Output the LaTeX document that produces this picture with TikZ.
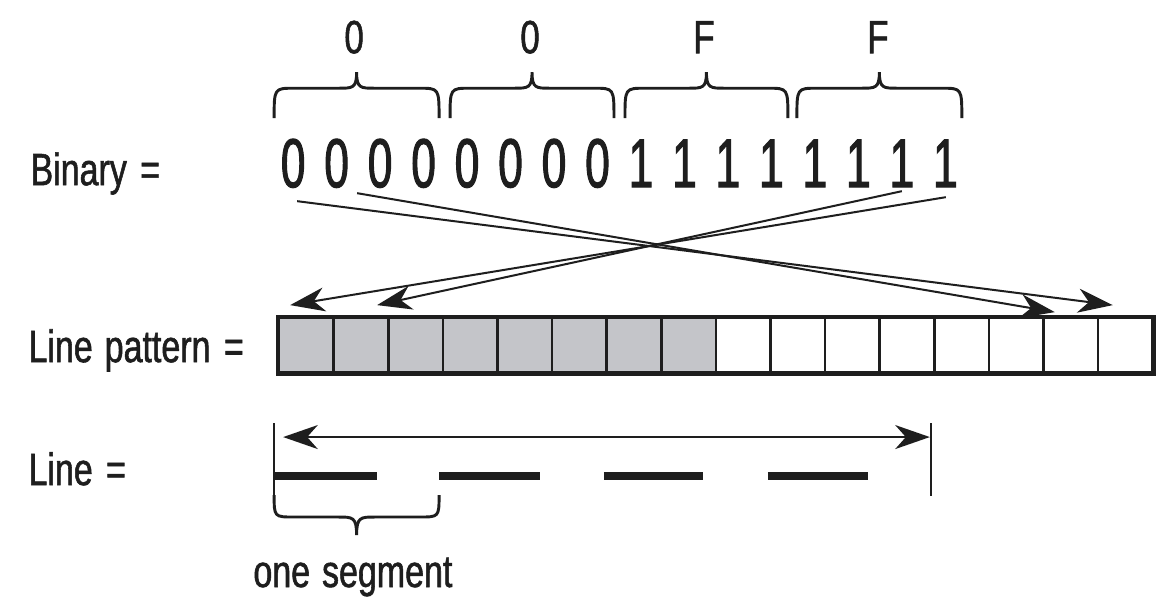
\documentclass[tikz,border=0pt]{standalone}
\usepackage{fontspec}
\setmainfont{Liberation Sans}[FakeStretch=0.75,FakeBold=1.2]
\newfontfamily\digfont{Liberation Sans}[FakeStretch=0.64,FakeBold=1.4]
\newfontfamily\hexfont{Liberation Sans}[FakeStretch=0.75,FakeBold=1.2]
\usetikzlibrary{arrows.meta}
\definecolor{cellgray}{RGB}{196,197,201}
\definecolor{ink}{RGB}{30,30,30}
\newcommand{\drawbrace}[5]{%
  \pgfmathsetmacro\bmid{(#1+#2)/2}%
  \draw[brc] (#1,#3) .. controls (#1,#4) .. (#1+20,#4) -- (\bmid-18,#4)
    .. controls (\bmid-4,#4) and (\bmid,#4) .. (\bmid,#5)
    .. controls (\bmid,#4) and (\bmid+4,#4) .. (\bmid+18,#4) -- (#2-20,#4)
    .. controls (#2,#4) .. (#2,#3);}
\begin{document}
\begin{tikzpicture}[x=0.75pt,y=-0.75pt,
  every path/.style={draw=ink},
  lbl/.style={anchor=base west,inner sep=0pt,text=ink,font=\fontsize{34}{36}\selectfont},
  dig/.style={anchor=base,inner sep=0pt,text=ink,font=\digfont\fontsize{52}{54}\selectfont},
  hex/.style={anchor=base,inner sep=0pt,text=ink,font=\hexfont\fontsize{35}{37}\selectfont},
  cell/.style={draw=ink,line width=2pt,minimum width=40.97pt,minimum height=40.5pt,inner sep=0pt},
  graycell/.style={cell,fill=cellgray},
  tipst/.style={},
  conn/.style={line width=1.5pt,-{Stealth[length=26pt,width=18pt,inset=8pt]}},
  dbl/.style={line width=1.5pt,{Stealth[length=26pt,width=18pt,inset=8pt]}-{Stealth[length=26pt,width=18pt,inset=8pt]}},
  brc/.style={line width=2.2pt},
  tickline/.style={line width=1.4pt},
  segbar/.style={line width=6.6pt,line cap=butt}]
\useasboundingbox (0,0) rectangle (1163,598);
\fill[white] (0,0) rectangle (1163,598);

% labels
\node[lbl] (lbin) at (30,185) {Binary\hspace{10pt}=};
\node[lbl] (lpat) at (28,362) {Line\hspace{9pt}pattern\hspace{10pt}=};
\node[lbl] (lline) at (28,485) {Line\hspace{10pt}=};
\node[lbl] (lseg) at (253,587) {one\hspace{9pt}segment};

% hex labels
\node[hex] (h1) at (354,53) {0};
\node[hex] (h2) at (530,53) {0};
\node[hex] (h3) at (704,53) {F};
\node[hex] (h4) at (878,53) {F};

% braces over nibbles
\drawbrace{274}{439}{118}{88}{72}
\drawbrace{450}{614}{118}{88}{72}
\drawbrace{625}{788}{118}{88}{72}
\drawbrace{797}{962}{118}{88}{72}

% binary digits
\foreach \i in {1,...,8} \node[dig] (b\i) at ({293+43.5*(\i-1)},187) {0};
\foreach \i in {9,...,16} \node[dig] (b\i) at ({293+43.5*(\i-1)},187) {1};

% line pattern cells
\foreach \i in {1,...,8} \node[graycell] (c\i) at ({279+54.625*(\i-0.5)},345) {};
\foreach \i in {9,...,16} \node[cell] (c\i) at ({279+54.625*(\i-0.5)},345) {};
\draw[line width=3.2pt] (c1.north west) rectangle (c16.south east);

% mapping arrows
\coordinate (sA) at (297,201); \coordinate (eA) at (1113,305);
\coordinate (sB) at (357,193); \coordinate (eB) at (1055,312);
\coordinate (sC) at (902,191); \coordinate (eC) at (377,305);
\coordinate (sD) at (946,197); \coordinate (eD) at (290,305);
\draw[conn] (sA) -- (eA);
\draw[conn] (sB) -- (eB);
\draw[conn] (sC) -- (eC);
\draw[conn] (sD) -- (eD);

% line section
\coordinate (tl1) at (274,423); \coordinate (tl2) at (274,496);
\coordinate (tr1) at (931,423); \coordinate (tr2) at (931,496);
\draw[tickline] (tl1) -- (tl2);
\draw[tickline] (tr1) -- (tr2);
\coordinate (da) at (283,437); \coordinate (db) at (930,437);
\draw[dbl] (da) -- (db);
\draw[segbar] (274,476) -- (377,476);
\draw[segbar] (439,476) -- (540,476);
\draw[segbar] (604,476) -- (703,476);
\draw[segbar] (768,476) -- (868,476);
\drawbrace{274}{439}{495}{517}{535}
\end{tikzpicture}
\end{document}
